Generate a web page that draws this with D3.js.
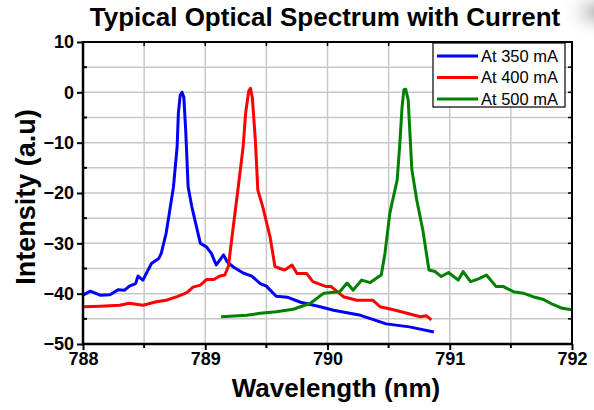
<!DOCTYPE html>
<html>
<head>
<meta charset="utf-8">
<script src="https://cdn.jsdelivr.net/npm/d3@7"></script>
<style>
  html, body { margin: 0; padding: 0; background: #fff; }
  svg { display: block; }
</style>
</head>
<body>
<svg id="chart" width="594" height="410"></svg>
<script>
const chartTitle = "Typical Optical Spectrum with Current";
const xLabel = "Wavelength (nm)";
const yLabel = "Intensity (a.u)";
const seriesNames = ["At 350 mA", "At 400 mA", "At 500 mA"];
const seriesColors = ["#0000ff", "#ff0000", "#008000"];
const xTicks = [788, 789, 790, 791, 792];
const yTicks = [10, 0, -10, -20, -30, -40, -50];

const wl350 = [788.00,788.06,788.14,788.22,788.29,788.34,788.38,788.43,788.45,788.49,788.56,788.62,788.64,788.68,788.71,788.74,788.77,788.78,788.795,788.81,788.825,788.84,788.86,788.89,788.96,789.01,789.05,789.09,789.15,789.18,789.23,789.31,789.38,789.45,789.50,789.58,789.67,789.78,789.94,790.05,790.27,790.48,790.67,790.87];
const int350 = [-40.3,-39.5,-40.3,-40.2,-39.2,-39.3,-38.5,-38.0,-36.5,-37.3,-34.0,-33.0,-32.0,-28.0,-23.4,-18.8,-10.8,-4.2,-0.6,0.0,-1.0,-7.5,-18.8,-22.7,-30.0,-30.7,-32.0,-34.3,-32.3,-33.7,-34.7,-35.9,-36.5,-38.0,-38.5,-40.5,-40.7,-41.7,-42.6,-43.3,-44.3,-46.0,-46.6,-47.6];

const wl400 = [788.00,788.14,788.30,788.38,788.49,788.60,788.68,788.77,788.85,788.90,788.96,789.01,789.07,789.12,789.16,789.19,789.22,789.27,789.31,789.33,789.355,789.37,789.385,789.41,789.43,789.47,789.53,789.57,789.61,789.65,789.71,789.75,789.83,789.88,789.99,790.03,790.13,790.24,790.37,790.43,790.54,790.65,790.76,790.81,790.85];
const int400 = [-42.6,-42.5,-42.3,-41.9,-42.3,-41.6,-41.3,-40.6,-39.8,-38.7,-38.3,-37.2,-37.2,-36.5,-36.3,-34.5,-28.5,-18.8,-10.8,-4.2,0.2,0.8,-1.0,-9.5,-19.4,-22.7,-28.7,-34.6,-35.0,-35.3,-34.3,-36.0,-36.0,-37.6,-38.6,-38.6,-40.6,-41.3,-41.3,-42.6,-43.2,-43.9,-44.6,-44.4,-45.2];

const wl500 = [789.13,789.34,789.45,789.58,789.72,789.86,789.97,790.10,790.16,790.21,790.28,790.35,790.42,790.44,790.47,790.51,790.57,790.59,790.61,790.625,790.64,790.66,790.69,790.73,790.78,790.83,790.88,790.93,790.99,791.07,791.11,791.17,791.23,791.30,791.38,791.44,791.52,791.60,791.68,791.76,791.84,791.92,792.00];
const int500 = [-44.6,-44.3,-43.9,-43.6,-43.1,-41.9,-39.9,-39.6,-37.9,-39.3,-37.3,-37.8,-36.6,-36.3,-32.0,-24.0,-17.4,-10.8,-2.9,0.5,0.6,-1.5,-15.4,-21.4,-27.4,-35.3,-35.6,-36.6,-35.8,-37.3,-35.6,-37.6,-37.1,-36.3,-38.6,-38.6,-39.6,-39.9,-40.6,-41.1,-42.1,-42.9,-43.2];

const wavelengths = [wl350, wl400, wl500];
const intensities = [int350, int400, int500];

const svg = d3.select("#chart");
const W = 594, H = 410;
const m = { left: 83, right: 22, top: 42, bottom: 66 };
const x = d3.scaleLinear().domain([788, 792]).range([m.left, W - m.right]);
const y = d3.scaleLinear().domain([-50, 10]).range([H - m.bottom, m.top]);

// corner shading artifact
const defs = svg.append("defs");
const rg = defs.append("radialGradient").attr("id", "corner").attr("cx", "50%").attr("cy", "50%").attr("r", "50%");
rg.append("stop").attr("offset", "0%").attr("stop-color", "#9a9a9a").attr("stop-opacity", 0.8);
rg.append("stop").attr("offset", "100%").attr("stop-color", "#ffffff").attr("stop-opacity", 0);
svg.append("ellipse").attr("cx", 600).attr("cy", 12).attr("rx", 40).attr("ry", 28).attr("fill", "url(#corner)");

// grid
const xGrid = d3.range(788.5, 792, 0.5);
const yGrid = d3.range(-45, 10, 5);
const g = svg.append("g");
g.selectAll(".gx").data(xGrid).join("line")
  .attr("x1", d => x(d)).attr("x2", d => x(d))
  .attr("y1", y(10)).attr("y2", y(-50))
  .attr("stroke", "#c8c8c8").attr("stroke-width", 1.5);
g.selectAll(".gy").data(yGrid).join("line")
  .attr("y1", d => y(d)).attr("y2", d => y(d))
  .attr("x1", x(788)).attr("x2", x(792))
  .attr("stroke", "#c8c8c8").attr("stroke-width", 1.5);

// curves
const line = d3.line().x(d => x(d[0])).y(d => y(d[1]));
wavelengths.forEach((wl, i) => {
  svg.append("path")
    .datum(wl.map((w, j) => [w, intensities[i][j]]))
    .attr("d", line)
    .attr("fill", "none")
    .attr("stroke", seriesColors[i])
    .attr("stroke-width", 3)
    .attr("stroke-linejoin", "round");
});

// axes
const font = "'Liberation Sans', Arial, sans-serif";
const xAxis = svg.append("g").attr("transform", `translate(0,${y(-50)})`)
  .call(d3.axisBottom(x).tickValues(xTicks).tickFormat(d3.format("d")).tickSize(6).tickPadding(2));
const yAxis = svg.append("g").attr("transform", `translate(${x(788)},0)`)
  .call(d3.axisLeft(y).tickValues(yTicks).tickFormat(d3.format("d")).tickSize(6).tickPadding(3));
[xAxis, yAxis].forEach(a => {
  a.select(".domain").remove();
  a.selectAll(".tick line").attr("stroke", "#000").attr("stroke-width", 2);
  a.selectAll(".tick text").attr("font-family", font).attr("font-weight", "bold")
    .attr("font-size", 18).attr("fill", "#000");
});
// minor ticks
svg.append("g").selectAll("line").data(d3.range(788.5, 792, 1)).join("line")
  .attr("x1", d => x(d)).attr("x2", d => x(d))
  .attr("y1", y(-50)).attr("y2", y(-50) + 4).attr("stroke", "#000").attr("stroke-width", 2);
svg.append("g").selectAll("line").data(d3.range(-45, 10, 10)).join("line")
  .attr("y1", d => y(d)).attr("y2", d => y(d))
  .attr("x1", x(788)).attr("x2", x(788) + 4).attr("stroke", "#000").attr("stroke-width", 2);
// top/right inner ticks
svg.append("g").selectAll("line").data(xGrid).join("line")
  .attr("x1", d => x(d)).attr("x2", d => x(d))
  .attr("y1", y(10)).attr("y2", y(10) + 4).attr("stroke", "#000").attr("stroke-width", 1.5);
svg.append("g").selectAll("line").data(yGrid).join("line")
  .attr("y1", d => y(d)).attr("y2", d => y(d))
  .attr("x1", x(792)).attr("x2", x(792) - 4).attr("stroke", "#000").attr("stroke-width", 1.5);

// frame
svg.append("path")
  .attr("d", `M${x(788)},${y(10)}H${x(792)}V${y(-50)}`)
  .attr("fill", "none").attr("stroke", "#000").attr("stroke-width", 2);
svg.append("path")
  .attr("d", `M${x(788)},${y(10) - 1}V${y(-50)}H${x(792) + 1}`)
  .attr("fill", "none").attr("stroke", "#000").attr("stroke-width", 2.5);

// titles
svg.append("text").text(chartTitle)
  .attr("x", 325).attr("y", 26).attr("text-anchor", "middle")
  .attr("font-family", font).attr("font-weight", "bold").attr("font-size", 26);
svg.append("text").text(xLabel)
  .attr("x", 336).attr("y", 397).attr("text-anchor", "middle")
  .attr("font-family", font).attr("font-weight", "bold").attr("font-size", 26);
svg.append("text").text(yLabel)
  .attr("transform", "translate(35,197) rotate(-90)").attr("text-anchor", "middle")
  .attr("font-family", font).attr("font-weight", "bold").attr("font-size", 27);

// legend
const lg = svg.append("g");
lg.append("rect").attr("x", 433).attr("y", 43).attr("width", 132).attr("height", 64)
  .attr("fill", "#fff").attr("stroke", "#000").attr("stroke-width", 1.2);
seriesNames.forEach((n, i) => {
  const ly = 56 + i * 21.5;
  lg.append("line").attr("x1", 437).attr("x2", 478).attr("y1", ly).attr("y2", ly)
    .attr("stroke", seriesColors[i]).attr("stroke-width", 3);
  lg.append("text").text(n).attr("x", 481).attr("y", ly).attr("dy", "0.36em")
    .attr("font-family", font).attr("font-size", 16.5).attr("fill", "#000");
});
</script>
</body>
</html>
